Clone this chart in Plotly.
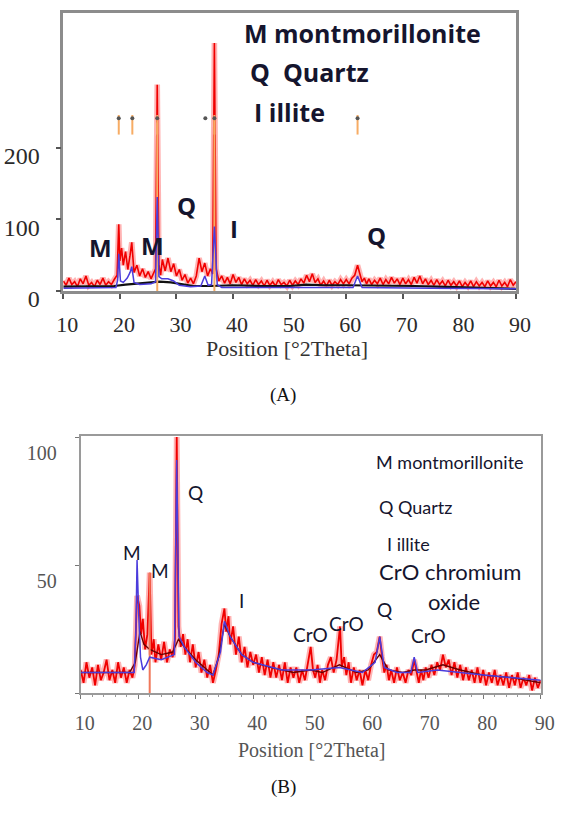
import plotly.graph_objects as go

W, H = 564, 815

# ---------------- Panel (A): raw clay ----------------
# observed pattern (2theta, counts)
a_observed = [
    (10.0, 14), (10.5, 8), (11.0, 18), (11.5, 9), (12.0, 13), (12.5, 6), (13.0, 17), (13.5, 10),
    (14.0, 21), (14.5, 8), (15.0, 12), (15.5, 6), (16.0, 15), (16.5, 9), (17.0, 18), (17.5, 8),
    (18.0, 13), (18.5, 9), (19.0, 16), (19.5, 22), (19.8, 93), (20.0, 42), (20.3, 60), (20.6, 36),
    (21.0, 55), (21.4, 30), (21.8, 50), (22.1, 68), (22.5, 26), (23.0, 36), (23.5, 21), (24.0, 31),
    (24.5, 19), (25.0, 27), (25.5, 17), (26.0, 25), (26.3, 31), (26.6, 288), (26.9, 36), (27.2, 22),
    (27.5, 44), (28.0, 28), (28.5, 46), (29.0, 27), (29.5, 38), (30.0, 21), (30.5, 30), (31.0, 15),
    (31.5, 23), (32.0, 11), (32.5, 18), (33.0, 10), (33.5, 21), (34.0, 46), (34.5, 27), (35.0, 39),
    (35.5, 21), (36.0, 31), (36.4, 24), (36.7, 346), (37.0, 31), (37.5, 14), (38.0, 21), (38.5, 11),
    (39.0, 19), (39.5, 10), (40.0, 23), (40.5, 12), (41.0, 19), (41.5, 9), (42.0, 17), (42.5, 10),
    (43.0, 15), (43.5, 8), (44.0, 16), (44.5, 9), (45.0, 14), (45.5, 7), (46.0, 15), (46.5, 8),
    (47.0, 13), (47.5, 7), (48.0, 16), (48.5, 9), (49.0, 12), (49.5, 7), (50.0, 15), (50.5, 8),
    (51.0, 14), (51.5, 9), (52.0, 17), (52.5, 11), (53.0, 22), (53.5, 13), (54.0, 24), (54.5, 12),
    (55.0, 17), (55.5, 8), (56.0, 14), (56.5, 7), (57.0, 15), (57.5, 8), (58.0, 13), (58.5, 9),
    (59.0, 16), (59.5, 10), (60.0, 16), (60.5, 10), (61.0, 18), (61.5, 22), (62.0, 36), (62.4, 24),
    (62.8, 13), (63.2, 18), (63.6, 10), (64.0, 17), (64.5, 9), (65.0, 15), (65.5, 10), (66.0, 18),
    (66.5, 9), (67.0, 16), (67.5, 10), (68.0, 19), (68.5, 11), (69.0, 17), (69.5, 9), (70.0, 18),
    (70.5, 10), (71.0, 16), (71.5, 9), (72.0, 19), (72.5, 11), (73.0, 21), (73.5, 10), (74.0, 17),
    (74.5, 9), (75.0, 15), (75.5, 8), (76.0, 16), (76.5, 9), (77.0, 14), (77.5, 7), (78.0, 15),
    (78.5, 8), (79.0, 13), (79.5, 7), (80.0, 14), (80.5, 6), (81.0, 12), (81.5, 7), (82.0, 14),
    (82.5, 6), (83.0, 13), (83.5, 7), (84.0, 12), (84.5, 6), (85.0, 14), (85.5, 7), (86.0, 12),
    (86.5, 6), (87.0, 15), (87.5, 7), (88.0, 12), (88.5, 6), (89.0, 16), (89.5, 8), (90.0, 13),
]
# fitted profile (blue)
a_fit = [
    (10.0, 4), (19.3, 5), (19.6, 15), (19.8, 52), (20.1, 14), (20.6, 12), (21.3, 18), (21.8, 26),
    (22.1, 34), (22.5, 12), (23.5, 9), (25.5, 10), (26.3, 13), (26.6, 131), (26.9, 20), (27.4, 17),
    (28.5, 17), (29.5, 14), (30.5, 8), (32.5, 6), (34.3, 7), (35.0, 21), (35.6, 8), (36.2, 9),
    (36.7, 90), (37.2, 9), (38.0, 5), (50.0, 5), (61.2, 5), (62.0, 21), (62.8, 5), (75.0, 4),
    (90.0, 3),
]
# background (black)
a_background = [
    (10, 6), (15, 6), (19, 7), (21, 9), (23, 10), (25, 11), (27, 13), (29, 12), (31, 9), (33, 7),
    (36, 7), (40, 8), (45, 7), (50, 7), (53, 9), (56, 8), (60, 8), (63, 8), (67, 7), (72, 7),
    (76, 6), (80, 5), (85, 4), (90, 3),
]
# reference sticks drawn to the base (2theta, counts)
a_stick_pos = [26.6, 36.7]
a_stick_int = [235, 241]
# peak-list marks at top of panel
a_mark_orange = [19.8, 22.2, 26.6, 36.7, 62.0]
a_mark_dots = [19.8, 22.2, 26.6, 35.1, 36.7, 62.0]
a_xticks = [10, 20, 30, 40, 50, 60, 70, 80, 90]
a_yticks = [0, 100, 200]

# ---------------- Panel (B): modified clay ----------------
b_observed = [
    (10.0, 9), (10.5, 4), (11.0, 12), (11.5, 6), (12.0, 10), (12.5, 3), (13.0, 11), (13.5, 5),
    (14.0, 8), (14.5, 13), (15.0, 5), (15.5, 9), (16.0, 4), (16.5, 12), (17.0, 6), (17.5, 10),
    (18.0, 4), (18.5, 9), (19.0, 6), (19.4, 11), (19.8, 38), (20.2, 34), (20.5, 23), (20.8, 29),
    (21.2, 17), (21.6, 23), (22.0, 47), (22.3, 15), (22.7, 21), (23.0, 12), (23.5, 19), (24.0, 13),
    (24.5, 20), (25.0, 12), (25.5, 17), (26.0, 14), (26.4, 21), (26.7, 100), (27.0, 26), (27.4, 18),
    (27.8, 23), (28.2, 15), (28.6, 21), (29.0, 12), (29.5, 19), (30.0, 10), (30.5, 16), (31.0, 8),
    (31.5, 13), (32.0, 6), (32.5, 11), (33.0, 4), (33.5, 9), (34.0, 15), (34.5, 27), (35.0, 33),
    (35.3, 24), (35.7, 30), (36.0, 19), (36.5, 26), (37.0, 15), (37.5, 22), (38.0, 12), (38.5, 18),
    (39.0, 10), (39.5, 16), (40.0, 11), (40.5, 15), (41.0, 8), (41.5, 14), (42.0, 7), (42.5, 13),
    (43.0, 6), (43.5, 12), (44.0, 6), (44.5, 11), (45.0, 5), (45.5, 12), (46.0, 4), (46.5, 10),
    (47.0, 6), (47.5, 10), (48.0, 4), (48.5, 9), (49.0, 5), (49.5, 11), (50.0, 18), (50.4, 9),
    (50.8, 6), (51.2, 11), (51.6, 4), (52.0, 9), (52.5, 5), (53.0, 11), (53.5, 14), (54.0, 8),
    (54.5, 13), (55.1, 26), (55.4, 10), (55.8, 14), (56.2, 7), (56.6, 12), (57.0, 4), (57.5, 10),
    (58.0, 5), (58.5, 9), (59.0, 3), (59.5, 9), (60.0, 5), (60.5, 11), (61.0, 15), (61.5, 16),
    (62.0, 22), (62.4, 14), (62.8, 8), (63.2, 11), (63.6, 5), (64.0, 9), (64.5, 4), (65.0, 10),
    (65.5, 5), (66.0, 8), (66.5, 4), (67.0, 9), (67.5, 7), (68.0, 13), (68.4, 8), (68.8, 4),
    (69.2, 9), (69.6, 5), (70.0, 10), (70.5, 6), (71.0, 11), (71.5, 7), (72.0, 12), (72.5, 9),
    (73.0, 15), (73.5, 10), (74.0, 13), (74.5, 7), (75.0, 12), (75.5, 6), (76.0, 11), (76.5, 5),
    (77.0, 10), (77.5, 5), (78.0, 9), (78.5, 4), (79.0, 10), (79.5, 4), (80.0, 9), (80.5, 3),
    (81.0, 8), (81.5, 4), (82.0, 9), (82.5, 3), (83.0, 7), (83.5, 3), (84.0, 8), (84.5, 2),
    (85.0, 7), (85.5, 3), (86.0, 8), (86.5, 2), (87.0, 6), (87.5, 3), (88.0, 7), (88.5, 1),
    (89.0, 6), (89.5, 2), (90.0, 5),
]
b_fit = [
    (10, 8), (19.3, 8), (19.6, 24), (19.8, 52), (20.1, 30), (20.4, 14), (20.8, 9), (21.4, 11),
    (22.0, 14), (24, 13), (26.3, 15), (26.7, 91), (27.1, 22), (28, 18), (30, 12), (32, 8), (33, 7),
    (34.3, 16), (35.0, 28), (36, 22), (38, 15), (40, 12), (45, 9), (50, 9), (55, 10), (59, 8),
    (61.2, 12), (62.0, 22), (62.8, 10), (65, 8), (67.4, 8), (68.0, 14), (68.6, 8), (72, 9),
    (80, 7), (90, 5),
]
b_smooth = [
    (10, 8), (18.5, 8), (19.5, 12), (20.3, 24), (21.0, 19), (22, 17), (24, 15), (26, 16), (27, 21),
    (28, 18), (30, 13), (32, 9), (33, 7), (34, 14), (35, 27), (36, 22), (38, 15), (40, 12),
    (43, 10), (47, 8), (50, 9), (52, 8), (55, 11), (58, 8), (60, 9), (62, 15), (63.5, 9), (66, 8),
    (68, 9), (70, 9), (73, 11), (76, 9), (80, 7), (85, 6), (90, 4),
]
b_stick_pos = [22.0]
b_stick_int = [47]
b_mark_orange = [19.8, 22.1, 26.8, 35.1, 62.0]
b_mark_dots = [19.8, 22.1, 26.8, 35.1, 62.0, 68.0]
b_xticks = [10, 20, 30, 40, 50, 60, 70, 80, 90]
b_yticks = [0, 50, 100]
b_yticktext = ["", "50", "100"]

# ---------------- styling ----------------
RED = "rgb(240,0,0)"
RED_HALO = "rgba(255,40,40,0.35)"
BLUE = "rgb(75,60,220)"
ORANGE = "rgb(247,172,100)"
INK = "#15152e"
A_YMAX = 388
B_YMAX = 100.4


def unzip(pairs):
    return [p[0] for p in pairs], [p[1] for p in pairs]


def sticks(pos, ints):
    sx, sy = [], []
    for p, h in zip(pos, ints):
        sx += [p, p, None]
        sy += [0, h, None]
    return sx, sy


fig = go.Figure()


def add_panel(xa, ya, observed, fit, back, back_color, back_w, spos, sint,
              mark_or, mark_dot, or_y, or_size, dot_y, red_w, stick_color):
    x, y = unzip(observed)
    fig.add_trace(go.Scatter(x=x, y=y, mode="lines", line=dict(color=RED_HALO, width=red_w + 4),
                             xaxis=xa, yaxis=ya, hoverinfo="skip"))
    fig.add_trace(go.Scatter(x=x, y=y, mode="lines", line=dict(color=RED, width=red_w),
                             xaxis=xa, yaxis=ya, hoverinfo="skip"))
    x, y = unzip(back)
    fig.add_trace(go.Scatter(x=x, y=y, mode="lines", line=dict(color=back_color, width=back_w),
                             xaxis=xa, yaxis=ya, hoverinfo="skip"))
    sx, sy = sticks(spos, sint)
    fig.add_trace(go.Scatter(x=sx, y=sy, mode="lines", line=dict(color=stick_color, width=2),
                             xaxis=xa, yaxis=ya, hoverinfo="skip"))
    x, y = unzip(fit)
    fig.add_trace(go.Scatter(x=x, y=y, mode="lines", line=dict(color=BLUE, width=1.5),
                             xaxis=xa, yaxis=ya, hoverinfo="skip"))
    fig.add_trace(go.Scatter(x=mark_or, y=[or_y] * len(mark_or), mode="markers",
                             marker=dict(symbol="line-ns", size=or_size,
                                         line=dict(color=ORANGE, width=2)),
                             cliponaxis=False, xaxis=xa, yaxis=ya, hoverinfo="skip"))
    fig.add_trace(go.Scatter(x=mark_dot, y=[dot_y] * len(mark_dot), mode="markers",
                             marker=dict(symbol="circle", size=4, color="#555"),
                             cliponaxis=False, xaxis=xa, yaxis=ya, hoverinfo="skip"))


add_panel("x", "y", a_observed, a_fit, a_background, "#111111", 2.2,
          a_stick_pos, a_stick_int, a_mark_orange, a_mark_dots, 232, 14, 241, 1.6, ORANGE)
add_panel("x2", "y2", b_observed, b_fit, b_smooth, "#6a0000", 1.4,
          b_stick_pos, b_stick_int, b_mark_orange, b_mark_dots, 104, 20, 108.3, 1.8,
          "rgb(240,120,90)")

serif = "Liberation Serif"
frame_a = dict(showline=True, mirror=True, linecolor="#8c8c8c", linewidth=2.5,
               showgrid=False, zeroline=False, ticks="outside", tickcolor="#555",
               ticklen=5, tickwidth=1.5, automargin=False)
frame_b = dict(showline=True, mirror=True, linecolor="#9a9a9a", linewidth=2,
               showgrid=False, zeroline=False, ticks="outside", tickcolor="#777",
               ticklen=4, tickwidth=1.2, automargin=False)

fig.update_layout(
    width=W, height=H, margin=dict(l=0, r=0, t=0, b=0, autoexpand=False),
    paper_bgcolor="white", plot_bgcolor="white", showlegend=False,
    xaxis=dict(domain=[63.3 / W, 516 / W], range=[10, 90], anchor="y",
               tickvals=a_xticks, ticktext=[str(v) for v in a_xticks],
               tickfont=dict(family=serif, size=22, color="#2a2a2a"),
               ticklabelstandoff=7, ticklabelshift=4, **frame_a),
    yaxis=dict(domain=[1 - 291 / H, 1 - 13 / H], range=[0, A_YMAX], anchor="x",
               tickvals=a_yticks, ticktext=[str(v) for v in a_yticks],
               tickfont=dict(family=serif, size=24, color="#2a2a2a"),
               ticklabelstandoff=11, ticklabelshift=8, **frame_a),
    xaxis2=dict(domain=[80.7 / W, 540.7 / W], range=[10, 90], anchor="y2",
                tickvals=b_xticks, ticktext=[str(v) for v in b_xticks],
                tickfont=dict(family=serif, size=20, color="#555"),
                ticklabelstandoff=7, ticklabelshift=4,
                minor=dict(ticks="outside", dtick=2, ticklen=2, tickcolor="#999"), **frame_b),
    yaxis2=dict(domain=[1 - 693 / H, 1 - 436 / H], range=[0, B_YMAX], anchor="x2",
                tickvals=b_yticks, ticktext=b_yticktext,
                tickfont=dict(family=serif, size=20, color="#555"),
                ticklabelstandoff=14, ticklabelshift=16, **frame_b),
)


def pax(x):
    return x / W


def pay(y):
    return 1 - y / H


ann = []
# Panel A legend text
for text, x, y in [("M montmorillonite", 242, 33), ("Q  Quartz", 248, 72), ("I illite", 252, 112)]:
    ann.append(dict(text=text, x=pax(x), y=pay(y), xref="paper", yref="paper",
                    xanchor="left", yanchor="middle", showarrow=False,
                    font=dict(family="Open Sans", size=25, color=INK, weight="bold")))
# Panel A peak labels (data coords)
for text, x, y in [("M", 16.65, 61), ("M", 25.8, 64), ("Q", 31.8, 119), ("I", 40.2, 87), ("Q", 65.4, 78)]:
    ann.append(dict(text=text, x=x, y=y, xref="x", yref="y", showarrow=False,
                    xanchor="center", yanchor="middle",
                    font=dict(family="Open Sans", size=24, color=INK, weight="bold")))
# Panel B legend text
for text, x, y, s in [("M montmorillonite", 375, 462, 18), ("Q Quartz", 378, 507, 18),
                      ("I illite", 386, 544, 18), ("CrO chromium", 378, 571, 22), ("oxide", 427, 601, 22)]:
    ann.append(dict(text=text, x=pax(x), y=pay(y), xref="paper", yref="paper",
                    xanchor="left", yanchor="middle", showarrow=False, borderpad=0,
                    font=dict(family="Lato", size=s, color=INK)))
# Panel B peak labels
for text, x, y in [("M", 18.9, 54.7), ("M", 23.8, 47.7), ("Q", 29.9, 78.5), ("I", 37.9, 36.3),
                   ("CrO", 49.9, 23), ("CrO", 56.3, 27), ("Q", 62.9, 32.8), ("CrO", 70.4, 22.3)]:
    ann.append(dict(text=text, x=x, y=y, xref="x2", yref="y2", showarrow=False,
                    xanchor="center", yanchor="middle",
                    font=dict(family="Lato", size=19, color=INK)))
# axis titles and captions
ann.append(dict(text="Position [°2Theta]", x=pax(287), y=pay(348), xref="paper", yref="paper",
                showarrow=False, font=dict(family=serif, size=22, color="#333")))
ann.append(dict(text="Position [°2Theta]", x=pax(311), y=pay(763), xref="paper", yref="paper",
                showarrow=False, font=dict(family=serif, size=20, color="#555")))
ann.append(dict(text="(A)", x=pax(283), y=pay(395), xref="paper", yref="paper",
                showarrow=False, font=dict(family=serif, size=19, color="#111")))
ann.append(dict(text="(B)", x=pax(283), y=pay(800), xref="paper", yref="paper",
                showarrow=False, font=dict(family=serif, size=19, color="#111")))
fig.update_layout(annotations=ann)

fig.write_html(
    "out.html",
    config={"displayModeBar": False},
    post_script="document.body.style.margin='0px';document.body.style.overflow='hidden';",
)
